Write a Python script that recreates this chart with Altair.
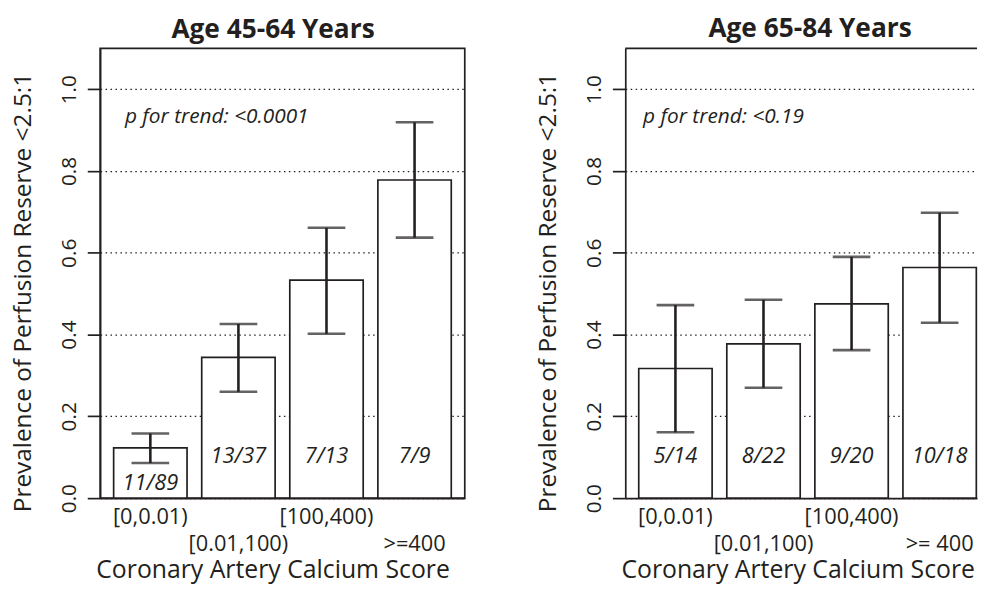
import altair as alt
import pandas as pd

# ---- data ----
cats_left = ["[0,0.01)", "[0.01,100)", "[100,400)", ">=400"]
cats_right = ["[0,0.01)", "[0.01,100)", "[100,400)", ">= 400"]

prev_left = [0.123, 0.344, 0.533, 0.778]
lo_left = [0.086, 0.260, 0.402, 0.637]
hi_left = [0.158, 0.426, 0.661, 0.919]
counts_left = ["11/89", "13/37", "7/13", "7/9"]

prev_right = [0.317, 0.377, 0.475, 0.564]
lo_right = [0.161, 0.270, 0.362, 0.429]
hi_right = [0.472, 0.485, 0.590, 0.698]
counts_right = ["5/14", "8/22", "9/20", "10/18"]

titles = ["Age 45-64 Years", "Age 65-84 Years"]
ptexts = ["p for trend: <0.0001", "p for trend: <0.19"]
y_ticks = [0.0, 0.2, 0.4, 0.6, 0.8, 1.0]

BLACK = "#231f20"
FONT = "Open Sans"
YTITLE = "Prevalence of Perfusion Reserve <2.5:1"
XTITLE = "Coronary Artery Calcium Score"
H = 454


def panel(cats, prev, lo, hi, counts, title, ptext, width, pad_outer, align,
          title_dx, p_x, full_box):
    df = pd.DataFrame({"cat": cats, "prev": prev, "lo": lo, "hi": hi, "n": counts})
    row2 = cats[1::2]
    row2_js = "[" + ",".join("'" + c + "'" for c in row2) + "]"

    xaxis = alt.Axis(
        title=XTITLE, labelAngle=0, ticks=False, tickSize=0,
        domain=True, domainColor=BLACK, domainWidth=1.7,
        labelFont=FONT, labelFontSize=22, labelColor=BLACK,
        labelBaseline="top", labelPadding=9, labelLineHeight=27,
        labelExpr=f"indexof({row2_js}, datum.value) >= 0 ? ['', datum.label] : datum.label",
        titleFont=FONT, titleFontSize=25, titleFontWeight="normal", titleColor=BLACK,
        titleX=174, titleY=72, titleAlign="center", titleBaseline="middle",
    )
    yaxis = alt.Axis(
        values=y_ticks, format=".1f", title=YTITLE,
        labelAngle=270, labelAlign="center", labelBaseline="bottom", labelPadding=8,
        labelFont=FONT, labelFontSize=21, labelColor=BLACK,
        tickSize=13, tickWidth=1.7, tickColor=BLACK,
        domain=True, domainColor=BLACK, domainWidth=1.7,
        grid=True, gridColor=BLACK, gridDash=[1.5, 3.5], gridWidth=1.3,
        titleFont=FONT, titleFontSize=24.6, titleFontWeight="normal", titleColor=BLACK,
        titleAngle=270, titleAlign="center", titleBaseline="middle",
        titleX=-77, titleY=246,
    )
    xenc = alt.X("cat:N", sort=cats, axis=xaxis,
                 scale=alt.Scale(paddingInner=1 / 6, paddingOuter=pad_outer, align=align))
    yscale = alt.Scale(domain=[0, 1.1], nice=False, zero=True)

    base = alt.Chart(df).encode(x=xenc)

    bars = base.mark_bar(fill="white", stroke=BLACK, strokeWidth=1.7).encode(
        y=alt.Y("prev:Q", scale=yscale, axis=yaxis, title=YTITLE)
    )
    whisk = base.mark_rule(color=BLACK, strokeWidth=2.6).encode(
        y=alt.Y("lo:Q", scale=yscale, axis=yaxis, title=YTITLE), y2="hi:Q"
    )
    caps = base.transform_fold(["lo", "hi"], as_=["k", "v"]).mark_tick(
        color=BLACK, thickness=2.6, size=38, orient="horizontal"
    ).encode(y=alt.Y("v:Q", scale=yscale, axis=yaxis, title=YTITLE))
    labels = base.transform_calculate(
        ly="datum.prev < 0.2 ? 0.037 : 0.104"
    ).mark_text(font=FONT, fontStyle="italic", fontSize=22, color=BLACK,
                baseline="middle").encode(
        y=alt.Y("ly:Q", scale=yscale, axis=yaxis, title=YTITLE), text="n:N"
    )
    ptxt = alt.Chart(pd.DataFrame({"t": [ptext]})).mark_text(
        font=FONT, fontStyle="italic", fontSize=21, color=BLACK,
        align="left", baseline="middle"
    ).encode(x=alt.value(p_x), y=alt.datum(0.933, scale=yscale), text="t:N")

    layers = [bars, whisk, caps, labels, ptxt]
    if not full_box:
        top = alt.Chart(pd.DataFrame({"t": [1.1]})).mark_rule(
            color=BLACK, strokeWidth=1.7
        ).encode(y=alt.Y("t:Q", scale=yscale, axis=yaxis, title=YTITLE))
        layers.append(top)

    view = (alt.ViewBackground(stroke=BLACK, strokeWidth=1.7) if full_box
            else alt.ViewBackground(stroke=None))
    return alt.layer(*layers).properties(
        width=width, height=H, view=view,
        title=alt.TitleParams(title, font=FONT, fontSize=26.5, fontWeight="bold",
                              color=BLACK, anchor="middle", dx=title_dx, offset=5),
    )


left = panel(cats_left, prev_left, lo_left, hi_left, counts_left, titles[0], ptexts[0],
             368, 0.1533, 0.5, -9.5, 25, True)
right = panel(cats_right, prev_right, lo_right, hi_right, counts_right, titles[1], ptexts[1],
              355, 0.0804, 0.951, 9, 18, False)

chart = alt.hconcat(left, right, spacing=70).properties(
    padding={"left": 2, "top": 5, "right": 0, "bottom": 0},
    background="white",
).configure_view(strokeWidth=1.7)

chart.save("out.html", embed_options={"renderer": "svg", "actions": False})
